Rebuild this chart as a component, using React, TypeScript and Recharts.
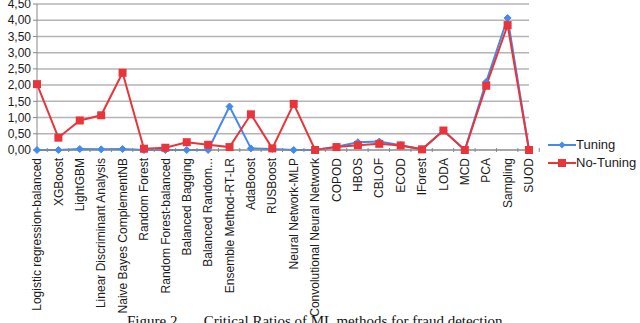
import React from 'react';
import { LineChart, Line, XAxis, YAxis, CartesianGrid } from 'recharts';

const categories = [
  'Logistic regression-balanced', 'XGBoost', 'LightGBM', 'Linear Discriminant Analysis',
  'Naive Bayes ComplementNB', 'Random Forest', 'Random Forest-balanced', 'Balanced Bagging',
  'Balanced Random...', 'Ensemble Method-RT-LR', 'AdaBoost', 'RUSBoost', 'Neural Network-MLP',
  'Convolutional Neural Network', 'COPOD', 'HBOS', 'CBLOF', 'ECOD', 'IForest', 'LODA', 'MCD',
  'PCA', 'Sampling', 'SUOD',
];
const tuning = [0, 0, 0.03, 0.02, 0.03, 0, 0, 0, 0, 1.34, 0.05, 0.03, 0, 0, 0.1, 0.24, 0.26, 0.15, 0.02, 0.6, 0, 2.1, 4.07, 0];
const noTuning = [2.03, 0.38, 0.91, 1.07, 2.38, 0.04, 0.07, 0.24, 0.16, 0.09, 1.1, 0.05, 1.42, 0, 0.09, 0.15, 0.19, 0.14, 0.02, 0.6, 0, 1.98, 3.85, 0];
const yTicks = [0, 0.5, 1, 1.5, 2, 2.5, 3, 3.5, 4, 4.5];
const seriesNames = ['Tuning', 'No-Tuning'];

const data = categories.map((c, i) => ({ name: c, [seriesNames[0]]: tuning[i], [seriesNames[1]]: noTuning[i] }));

const BLUE = '#4589ee';
const RED = '#e8353b';
const FONT = 'Liberation Sans, Arial, sans-serif';

const Diamond = (props: any) => {
  const { cx, cy } = props;
  if (cx == null || cy == null) return null;
  const r = 3.5;
  return <polygon points={`${cx},${cy - r} ${cx + r},${cy} ${cx},${cy + r} ${cx - r},${cy}`} fill={BLUE} stroke={BLUE} />;
};
const Square = (props: any) => {
  const { cx, cy } = props;
  if (cx == null || cy == null) return null;
  return <rect x={cx - 4} y={cy - 4} width={8} height={8} fill={RED} />;
};

const XTick = (props: any) => {
  const { x, y, payload } = props;
  const half = 10.25;
  const ty = y + 2;
  return (
    <g>
      <line x1={x + half} y1={y - 8} x2={x + half} y2={y - 4} stroke="#888" strokeWidth={1} />
      <text
        x={x}
        y={ty}
        transform={`rotate(-90, ${x}, ${ty})`}
        textAnchor="end"
        dy="0.35em"
        fontSize={12}
        fontFamily={FONT}
        fill="#1a1a1a"
      >
        {payload.value}
      </text>
    </g>
  );
};

const LegendBox = () => (
  <div style={{ position: 'absolute', left: 548, top: 136, fontFamily: FONT, fontSize: 13, color: '#1a1a1a', lineHeight: '18px' }}>
    {[
      { name: seriesNames[0], color: BLUE, shape: 'd' },
      { name: seriesNames[1], color: RED, shape: 's' },
    ].map((s) => (
      <div key={s.name} style={{ display: 'flex', alignItems: 'center' }}>
        <svg width={28} height={12}>
          <line x1={0} y1={6} x2={28} y2={6} stroke={s.color} strokeWidth={2} />
          {s.shape === 'd' ? (
            <polygon points="14,2.5 17.5,6 14,9.5 10.5,6" fill={s.color} />
          ) : (
            <rect x={10} y={2} width={8} height={8} fill={s.color} />
          )}
        </svg>
        <span>{s.name}</span>
      </div>
    ))}
  </div>
);

export default function App() {
  return (
    <div style={{ position: 'absolute', left: 0, top: 0, width: 640, height: 323, overflow: 'hidden', background: '#fff' }}>
      <LineChart width={640} height={323} data={data} margin={{ top: 4, right: 111, bottom: 0, left: 0 }}>
        <CartesianGrid vertical={false} stroke="#b4b4b4" strokeWidth={1.5} />
        <XAxis
          dataKey="name"
          interval={0}
          height={173}
          tickLine={false}
          tick={<XTick />}
          axisLine={{ stroke: '#888' }}
          tickMargin={0}
        />
        <YAxis
          domain={[0, 4.5]}
          ticks={yTicks}
          width={37}
          interval={0}
          tickFormatter={(v: number) => v.toFixed(2).replace('.', ',')}
          tick={{ fontSize: 12, fontFamily: FONT, fill: '#1a1a1a' }}
          tickLine={{ stroke: '#888' }}
          tickSize={4}
          axisLine={{ stroke: '#888' }}
        />
        <Line type="linear" dataKey={seriesNames[0]} stroke={BLUE} strokeWidth={2} dot={<Diamond />} isAnimationActive={false} />
        <Line type="linear" dataKey={seriesNames[1]} stroke={RED} strokeWidth={2} dot={<Square />} isAnimationActive={false} />
      </LineChart>
      <LegendBox />
      <div
        style={{
          position: 'absolute',
          left: 127,
          top: 313,
          fontFamily: 'Liberation Serif, Times New Roman, serif',
          fontSize: 15,
          whiteSpace: 'pre',
          color: '#111',
        }}
      >
        {'Figure 2.      Critical Ratios of ML methods for fraud detection'}
      </div>
    </div>
  );
}
